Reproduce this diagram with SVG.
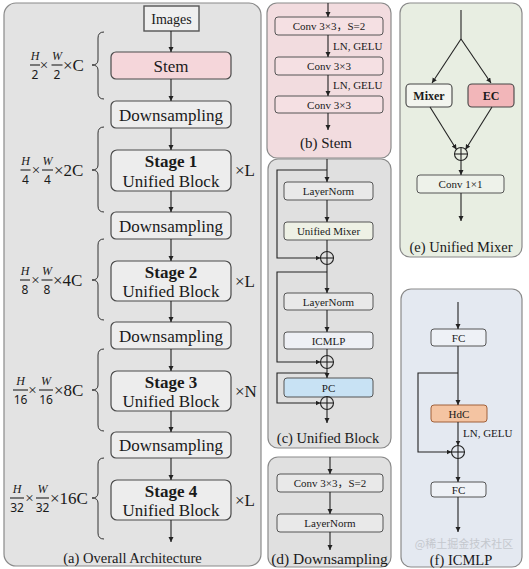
<svg xmlns="http://www.w3.org/2000/svg" width="529" height="569" viewBox="0 0 529 569">
<defs>
<marker id="ah" markerUnits="userSpaceOnUse" markerWidth="6" markerHeight="6" refX="5" refY="2.5" orient="auto"><path d="M0,0 L5,2.5 L0,5 z" fill="#222"/></marker>
<style>
.t{font-family:'Liberation Serif',serif;fill:#1a1a1a}
.cj{font-family:'Liberation Serif','Noto Sans CJK SC',serif}
.m{text-anchor:middle}
.b{font-weight:bold}
.it{font-style:italic}
.dg{font-family:'Noto Sans',sans-serif;fill:#1a1a1a;text-anchor:middle;font-size:12px}
.ln{stroke:#222;stroke-width:1.1;fill:none}
.a{marker-end:url(#ah)}
.box{fill:#ededed;stroke:#4a4a4a;stroke-width:1.2}
.sbox{stroke:#555;stroke-width:1}
.panel{stroke:#8a8a8a;stroke-width:1.2}
.brace{stroke:#333;stroke-width:1;fill:none}
.op{fill:none;stroke:#222;stroke-width:1.1}
</style>
</defs>

<!-- Panel (a) -->
<g id="panel-a">
<rect class="panel" x="4" y="3" width="257" height="563" rx="12" fill="#e3e3e3"/>
<text class="t m" x="132.5" y="563" font-size="14.5">(a) Overall Architecture</text>
</g>
<g id="images"><rect x="144" y="6" width="55" height="25" fill="#efefef" stroke="#555" stroke-width="1.4"/><text class="t m" x="171.5" y="23.5" font-size="14">Images</text></g>
<g id="stem"><rect class="box" x="111" y="52" width="120" height="27" rx="5" style="fill:#f5d6da"/><text class="t m" x="171" y="71.5" font-size="17">Stem</text></g>
<g id="ds1"><rect class="box" x="111" y="101" width="120" height="27" rx="5"/><text class="t m" x="171" y="120.5" font-size="17">Downsampling</text></g>
<g id="stage1"><rect class="box" x="111" y="150" width="120" height="41" rx="6"/><text class="t m b" x="171" y="167" font-size="17">Stage 1</text><text class="t m" x="171" y="187" font-size="17">Unified Block</text></g>
<g id="ds2"><rect class="box" x="111" y="212" width="120" height="27" rx="5"/><text class="t m" x="171" y="231.5" font-size="17">Downsampling</text></g>
<g id="stage2"><rect class="box" x="111" y="261" width="120" height="40" rx="6"/><text class="t m b" x="171" y="277.5" font-size="17">Stage 2</text><text class="t m" x="171" y="297" font-size="17">Unified Block</text></g>
<g id="ds3"><rect class="box" x="111" y="322" width="120" height="27" rx="5"/><text class="t m" x="171" y="341.5" font-size="17">Downsampling</text></g>
<g id="stage3"><rect class="box" x="111" y="371" width="120" height="40" rx="6"/><text class="t m b" x="171" y="387.5" font-size="17">Stage 3</text><text class="t m" x="171" y="407" font-size="17">Unified Block</text></g>
<g id="ds4"><rect class="box" x="111" y="432" width="120" height="26" rx="5"/><text class="t m" x="171" y="451" font-size="17">Downsampling</text></g>
<g id="stage4"><rect class="box" x="111" y="480" width="120" height="40" rx="6"/><text class="t m b" x="171" y="496.5" font-size="17">Stage 4</text><text class="t m" x="171" y="516" font-size="17">Unified Block</text></g>

<g id="repeat-labels">
<text class="t" x="235" y="176" font-size="17">×L</text>
<text class="t" x="235" y="287" font-size="17">×L</text>
<text class="t" x="235" y="397" font-size="17">×N</text>
<text class="t" x="235" y="506" font-size="17">×L</text>
</g>

<g id="braces">
<path class="brace" d="M104,32 Q98,32 98,38 L98,60 Q98,65 92,65 Q98,65 98,70 L98,93 Q98,99 104,99"/>
<path class="brace" d="M104,127 Q98,127 98,133 L98,165 Q98,170 92,170 Q98,170 98,175 L98,206 Q98,212 104,212"/>
<path class="brace" d="M104,239 Q98,239 98,245 L98,275 Q98,280 92,280 Q98,280 98,285 L98,314 Q98,320 104,320"/>
<path class="brace" d="M104,349 Q98,349 98,355 L98,385 Q98,390 92,390 Q98,390 98,395 L98,425 Q98,431 104,431"/>
<path class="brace" d="M104,458 Q98,458 98,464 L98,493 Q98,498 92,498 Q98,498 98,503 L98,533 Q98,539 104,539"/>
</g>

<g id="size-labels">
<text class="t it m" x="35" y="60" font-size="12">H</text><line class="ln" x1="30" y1="65" x2="40" y2="65" stroke-width="0.9"/><text class="dg" x="35" y="78.5">2</text>
<text class="t m" x="44" y="70" font-size="15">×</text>
<text class="t it m" x="57" y="60" font-size="12">W</text><line class="ln" x1="51.5" y1="65" x2="62.5" y2="65" stroke-width="0.9"/><text class="dg" x="57" y="78.5">2</text>
<text class="t" x="63" y="71" font-size="17">×C</text>

<text class="t it m" x="25.5" y="165" font-size="12">H</text><line class="ln" x1="20.5" y1="170" x2="30.5" y2="170" stroke-width="0.9"/><text class="dg" x="25.5" y="183.5">4</text>
<text class="t m" x="36" y="175" font-size="15">×</text>
<text class="t it m" x="47.5" y="165" font-size="12">W</text><line class="ln" x1="42" y1="170" x2="53" y2="170" stroke-width="0.9"/><text class="dg" x="47.5" y="183.5">4</text>
<text class="t" x="54" y="176" font-size="17">×2C</text>

<text class="t it m" x="25" y="275" font-size="12">H</text><line class="ln" x1="20" y1="280" x2="30" y2="280" stroke-width="0.9"/><text class="dg" x="25" y="293.5">8</text>
<text class="t m" x="35.5" y="285" font-size="15">×</text>
<text class="t it m" x="47" y="275" font-size="12">W</text><line class="ln" x1="41.5" y1="280" x2="52.5" y2="280" stroke-width="0.9"/><text class="dg" x="47" y="293.5">8</text>
<text class="t" x="53" y="286" font-size="17">×4C</text>

<text class="t it m" x="20.5" y="385" font-size="12">H</text><line class="ln" x1="13" y1="390" x2="28" y2="390" stroke-width="0.9"/><text class="dg" x="20.5" y="403.5">16</text>
<text class="t m" x="32.5" y="395" font-size="15">×</text>
<text class="t it m" x="46" y="385" font-size="12">W</text><line class="ln" x1="39" y1="390" x2="53" y2="390" stroke-width="0.9"/><text class="dg" x="46" y="403.5">16</text>
<text class="t" x="54" y="396" font-size="17">×8C</text>

<text class="t it m" x="17" y="493" font-size="12">H</text><line class="ln" x1="10" y1="498" x2="24" y2="498" stroke-width="0.9"/><text class="dg" x="17" y="511.5">32</text>
<text class="t m" x="29.5" y="503" font-size="15">×</text>
<text class="t it m" x="42.5" y="493" font-size="12">W</text><line class="ln" x1="36" y1="498" x2="49" y2="498" stroke-width="0.9"/><text class="dg" x="42.5" y="511.5">32</text>
<text class="t" x="50" y="504" font-size="17">×16C</text>
</g>

<!-- Panel (b) Stem -->
<g id="panel-b">
<rect class="panel" x="267" y="3" width="124" height="155" rx="10" fill="#f2dcdf"/>
<text class="t m" x="326" y="148" font-size="15">(b) Stem</text>
</g>
<g id="b-conv1"><rect class="sbox" x="275" y="17" width="108" height="18" rx="3" fill="#f5e0e3"/><text class="t cj m" x="329" y="30" font-size="11">Conv 3×3，S=2</text></g>
<g id="b-conv2"><rect class="sbox" x="275" y="57" width="108" height="18" rx="3" fill="#f5e0e3"/><text class="t m" x="329" y="70" font-size="11">Conv 3×3</text></g>
<g id="b-conv3"><rect class="sbox" x="275" y="96" width="108" height="17" rx="3" fill="#f5e0e3"/><text class="t m" x="329" y="108.5" font-size="11">Conv 3×3</text></g>
<g id="b-labels">
<text class="t" x="333" y="50" font-size="11">LN, GELU</text>
<text class="t" x="333" y="89" font-size="11">LN, GELU</text>
</g>

<!-- Panel (c) Unified Block -->
<g id="panel-c">
<rect class="panel" x="268" y="159" width="123" height="289" rx="10" fill="#e0e0e0"/>
<text class="t m" x="328" y="443" font-size="14.5">(c) Unified Block</text>
</g>
<g id="c-ln1"><rect class="sbox" x="284" y="182" width="89" height="18" rx="3" fill="#e9e9e9"/><text class="t m" x="328.5" y="195" font-size="11">LayerNorm</text></g>
<g id="c-mixer"><rect class="sbox" x="284" y="222" width="89" height="18" rx="3" fill="#eef1e5"/><text class="t m" x="328.5" y="235" font-size="11">Unified Mixer</text></g>
<g id="c-ln2"><rect class="sbox" x="284" y="293" width="89" height="17" rx="3" fill="#e9e9e9"/><text class="t m" x="328.5" y="305.5" font-size="11">LayerNorm</text></g>
<g id="c-icmlp"><rect class="sbox" x="284" y="332" width="89" height="17" rx="3" fill="#eef0f5"/><text class="t m" x="328.5" y="344.5" font-size="11">ICMLP</text></g>
<g id="c-pc"><rect class="sbox" x="284" y="378" width="89" height="19" rx="3" fill="#c8e2f4" stroke="#5a6a7a"/><text class="t m" x="328.5" y="391.5" font-size="11">PC</text></g>
<g id="c-add1"><circle class="op" cx="327" cy="258" r="6.5"/><line class="ln" x1="320.5" y1="258" x2="333.5" y2="258"/></g>
<g id="c-add2"><circle class="op" cx="327" cy="362" r="6.5"/><line class="ln" x1="320.5" y1="362" x2="333.5" y2="362"/></g>
<g id="c-add3"><circle class="op" cx="327" cy="403" r="6.5"/><line class="ln" x1="320.5" y1="403" x2="333.5" y2="403"/></g>

<!-- Panel (d) Downsampling -->
<g id="panel-d">
<rect class="panel" x="268" y="457" width="123" height="110" rx="10" fill="#e0e0e0"/>
<text class="t m" x="329.5" y="564" font-size="15.5">(d) Downsampling</text>
</g>
<g id="d-conv"><rect class="sbox" x="277" y="474" width="106" height="18" rx="3" fill="#e9e9e9"/><text class="t cj m" x="330" y="487" font-size="11">Conv 3×3，S=2</text></g>
<g id="d-ln"><rect class="sbox" x="277" y="514" width="106" height="18" rx="3" fill="#e9e9e9"/><text class="t m" x="330" y="527" font-size="11">LayerNorm</text></g>

<!-- Panel (e) Unified Mixer -->
<g id="panel-e">
<rect class="panel" x="400" y="3" width="122" height="254" rx="10" fill="#e8eee2"/>
<text class="t m" x="461" y="252" font-size="14.5">(e) Unified Mixer</text>
</g>
<g id="e-mixer"><rect x="406" y="84" width="46" height="23" rx="4" fill="#f3f5ef" stroke="#444" stroke-width="1.1"/><text class="t m b" x="429" y="100" font-size="12">Mixer</text></g>
<g id="e-ec"><rect x="468" y="84" width="46" height="23" rx="4" fill="#f2b6b9" stroke="#444" stroke-width="1.1"/><text class="t m b" x="491" y="100" font-size="12">EC</text></g>
<g id="e-add"><circle class="op" cx="461" cy="154" r="6.5"/><line class="ln" x1="454.5" y1="154" x2="467.5" y2="154"/><line class="ln" x1="461" y1="147.5" x2="461" y2="160.5"/></g>
<g id="e-conv"><rect class="sbox" x="417" y="175" width="87" height="18" rx="3" fill="#eef2ea"/><text class="t m" x="460.5" y="188" font-size="11">Conv 1×1</text></g>

<!-- Panel (f) ICMLP -->
<g id="panel-f">
<rect class="panel" x="401" y="289" width="121" height="278" rx="10" fill="#e4e9f1"/>
<text class="t m" x="461" y="565" font-size="14.5">(f) ICMLP</text>
<text x="464" y="548" font-size="11" fill="#c4c8ce" text-anchor="middle" font-family="'Noto Sans CJK SC', sans-serif">@稀土掘金技术社区</text>
</g>
<g id="f-fc1"><rect class="sbox" x="431" y="329" width="55" height="17" rx="3" fill="#eef1f6"/><text class="t m" x="458.5" y="341.5" font-size="11">FC</text></g>
<g id="f-hdc"><rect x="431" y="405" width="56" height="17" rx="3" fill="#f4c4a2" stroke="#a0603a" stroke-width="1"/><text class="t m" x="459" y="417.5" font-size="11">HdC</text></g>
<g id="f-add"><circle class="op" cx="458" cy="452" r="6.5"/><line class="ln" x1="451.5" y1="452" x2="464.5" y2="452"/></g>
<g id="f-fc2"><rect class="sbox" x="431" y="482" width="55" height="15" rx="3" fill="#eef1f6"/><text class="t m" x="458.5" y="493.5" font-size="11">FC</text></g>
<g id="f-label"><text class="t" x="463" y="437" font-size="11">LN, GELU</text></g>

<!-- Connectors -->
<g id="connectors">
<line class="ln a" x1="171" y1="31" x2="171" y2="52"/>
<line class="ln a" x1="171" y1="79" x2="171" y2="101"/>
<line class="ln a" x1="171" y1="128" x2="171" y2="150"/>
<line class="ln a" x1="171" y1="191" x2="171" y2="212"/>
<line class="ln a" x1="171" y1="239" x2="171" y2="261"/>
<line class="ln a" x1="171" y1="301" x2="171" y2="322"/>
<line class="ln a" x1="171" y1="349" x2="171" y2="371"/>
<line class="ln a" x1="171" y1="411" x2="171" y2="432"/>
<line class="ln a" x1="171" y1="458" x2="171" y2="480"/>
<line class="ln a" x1="171" y1="520" x2="171" y2="542"/>

<line class="ln a" x1="328" y1="3" x2="328" y2="17"/>
<line class="ln a" x1="328" y1="35" x2="328" y2="57"/>
<line class="ln a" x1="328" y1="75" x2="328" y2="96"/>
<line class="ln a" x1="328" y1="113" x2="328" y2="130"/>

<line class="ln a" x1="327" y1="159" x2="327" y2="182"/>
<polyline class="ln a" points="327,170 277,170 277,258 320.5,258"/>
<line class="ln a" x1="327" y1="200" x2="327" y2="222"/>
<line class="ln" x1="327" y1="240" x2="327" y2="264.5"/>
<line class="ln a" x1="327" y1="264.5" x2="327" y2="293"/>
<polyline class="ln a" points="327,272 277,272 277,362 320.5,362"/>
<line class="ln a" x1="327" y1="310" x2="327" y2="332"/>
<line class="ln" x1="327" y1="349" x2="327" y2="368.5"/>
<line class="ln a" x1="327" y1="368.5" x2="327" y2="378"/>
<polyline class="ln a" points="327,373 277,373 277,403 320.5,403"/>
<line class="ln" x1="327" y1="397" x2="327" y2="409.5"/>
<line class="ln a" x1="327" y1="409.5" x2="327" y2="423"/>

<line class="ln a" x1="330" y1="457" x2="330" y2="474"/>
<line class="ln a" x1="330" y1="492" x2="330" y2="514"/>
<line class="ln a" x1="330" y1="532" x2="330" y2="550"/>

<polyline class="ln" points="461,10 461,39"/>
<line class="ln a" x1="461" y1="39" x2="432" y2="83"/>
<line class="ln a" x1="461" y1="39" x2="491" y2="83"/>
<line class="ln a" x1="430" y1="107" x2="456.5" y2="149.5"/>
<line class="ln a" x1="492" y1="107" x2="465.5" y2="149.5"/>
<line class="ln a" x1="461" y1="160.5" x2="461" y2="175"/>
<line class="ln a" x1="461" y1="193" x2="461" y2="221"/>

<line class="ln a" x1="458" y1="302" x2="458" y2="329"/>
<line class="ln a" x1="458" y1="346" x2="458" y2="405"/>
<polyline class="ln a" points="458,373 418,373 418,452 451.5,452"/>
<line class="ln a" x1="458" y1="422" x2="458" y2="445.5"/>
<line class="ln a" x1="458" y1="445.5" x2="458" y2="482"/>
<line class="ln a" x1="458" y1="497" x2="458" y2="532"/>
</g>
</svg>
